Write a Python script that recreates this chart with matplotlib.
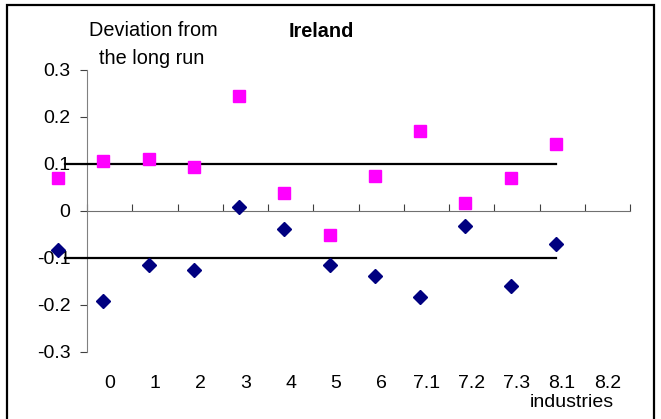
import numpy as np
import matplotlib
matplotlib.use('Agg')
import matplotlib.pyplot as plt
from matplotlib.patches import Rectangle

plt.rcParams['font.family'] = ['Liberation Sans', 'DejaVu Sans']

industries = ['0', '1', '2', '3', '4', '5', '6', '7.1', '7.2', '7.3', '8.1', '8.2']
upper = [0.069, 0.106, 0.110, 0.094, 0.244, 0.037, -0.051, 0.074, 0.171, 0.017, 0.070, 0.142]
lower = [-0.083, -0.191, -0.115, -0.127, 0.009, -0.038, -0.115, -0.139, -0.184, -0.033, -0.160, -0.070]
band = 0.1

W, H = 661, 419
fig = plt.figure(figsize=(W / 100, H / 100), dpi=100)
ax = fig.add_axes([87 / W, (H - 351.7) / H, (630 - 87) / W, (351.7 - 70) / H])

# points sit shifted against the category slots, like in the source sheet
xs = np.arange(len(industries)) - 0.64
ax.plot(xs, upper, ls='none', marker='s', ms=8.3, color='#ff00ff', mec='#ff00ff',
        clip_on=False, zorder=5)
ax.plot(xs, lower, ls='none', marker='D', ms=6.8, color='#000080', mec='#000080',
        clip_on=False, zorder=5)

for yv in (band, -band):
    ax.plot([-0.48, xs[-1]], [yv, yv], color='black', lw=1.6, clip_on=False, zorder=4)

ax.set_xlim(0, len(industries))
ax.set_ylim(-0.3, 0.3)
ax.set_yticks([-0.3, -0.2, -0.1, 0, 0.1, 0.2, 0.3])
ax.set_yticklabels(['-0.3', '-0.2', '-0.1', '0', '0.1', '0.2', '0.3'])
ax.set_xticks(np.arange(len(industries) + 1))
ax.set_xticklabels([])

for s in ('top', 'right'):
    ax.spines[s].set_visible(False)
ax.spines['bottom'].set_position(('data', 0))
ax.spines['bottom'].set_color('#707070')
ax.spines['left'].set_color('#808080')
ax.tick_params(axis='y', direction='out', length=5, color='#404040', pad=7, labelsize=14)
ax.tick_params(axis='x', direction='in', length=5, color='#404040')

for i, lab in enumerate(industries):
    ax.text(i + 0.5, -0.13, lab, transform=ax.get_xaxis_transform(),
            ha='center', va='baseline', fontsize=14)

fig.text(321 / W, 1 - 36.7 / H, 'Ireland', ha='center', va='baseline', fontsize=14.3,
         fontweight='bold')
fig.text(153 / W, 1 - 36 / H, 'Deviation from', ha='center', va='baseline', fontsize=14.3)
fig.text(152 / W, 1 - 64 / H, 'the long run', ha='center', va='baseline', fontsize=14.3)
fig.text(572 / W, 1 - 407 / H, 'industries', ha='center', va='baseline', fontsize=14)

fig.patches.append(Rectangle((7 / W, -0.1), (654 - 7) / W, 1.1 - 5 / H,
                             transform=fig.transFigure, fill=False, ec='black', lw=1.6))

fig.savefig('out.png', dpi=100)
